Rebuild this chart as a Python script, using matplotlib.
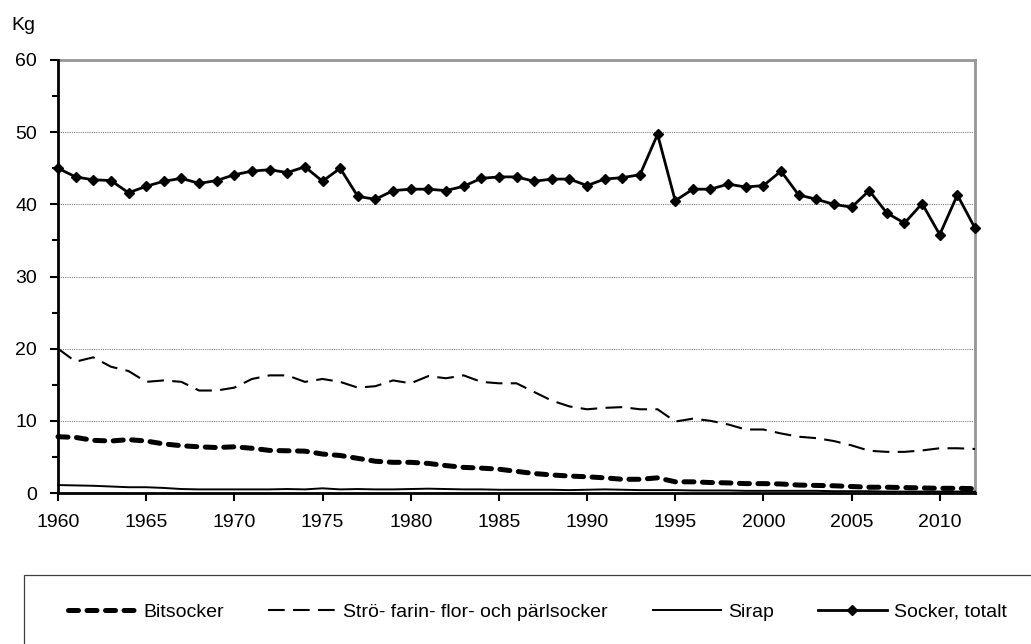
import matplotlib
matplotlib.use("Agg")
import matplotlib.pyplot as plt
from matplotlib.patches import Rectangle
from matplotlib.ticker import MultipleLocator

plt.rcParams['font.family'] = ['Liberation Sans', 'DejaVu Sans']
FS = 14

years = list(range(1960, 2013))
bitsocker = [7.8, 7.7, 7.3, 7.2, 7.4, 7.2, 6.8, 6.55, 6.4, 6.3,
             6.4, 6.2, 5.9, 5.85, 5.8, 5.4, 5.2, 4.8, 4.4, 4.25,
             4.25, 4.1, 3.8, 3.55, 3.45, 3.3, 3.0, 2.7, 2.5, 2.35,
             2.25, 2.1, 1.9, 1.9, 2.1, 1.55, 1.55, 1.45, 1.4, 1.3,
             1.3, 1.25, 1.1, 1.05, 1.0, 0.9, 0.8, 0.8, 0.75, 0.7,
             0.65, 0.65, 0.6]
stro = [20.0, 18.2, 18.8, 17.5, 16.9, 15.4, 15.6, 15.4, 14.2, 14.2,
        14.6, 15.8, 16.3, 16.3, 15.4, 15.8, 15.4, 14.6, 14.8, 15.6,
        15.2, 16.2, 15.9, 16.3, 15.4, 15.2, 15.2, 14.0, 12.8, 12.0,
        11.6, 11.8, 11.9, 11.6, 11.6, 9.9, 10.3, 10.0, 9.5, 8.8,
        8.8, 8.25, 7.8, 7.6, 7.2, 6.6, 5.85, 5.7, 5.7, 5.9,
        6.2, 6.2, 6.1]
sirap = [1.1, 1.05, 1.0, 0.9, 0.8, 0.8, 0.7, 0.55, 0.5, 0.5,
         0.5, 0.5, 0.5, 0.55, 0.5, 0.65, 0.5, 0.55, 0.5, 0.5,
         0.55, 0.6, 0.55, 0.5, 0.5, 0.45, 0.45, 0.45, 0.45, 0.4,
         0.45, 0.5, 0.45, 0.4, 0.4, 0.4, 0.35, 0.35, 0.35, 0.3,
         0.3, 0.3, 0.3, 0.3, 0.25, 0.25, 0.25, 0.2, 0.2, 0.2,
         0.2, 0.2, 0.2]
totalt = [45.0, 43.8, 43.4, 43.3, 41.6, 42.5, 43.2, 43.6, 42.9, 43.3,
          44.1, 44.6, 44.8, 44.4, 45.2, 43.2, 45.0, 41.1, 40.7, 41.9,
          42.1, 42.1, 41.9, 42.5, 43.6, 43.8, 43.8, 43.2, 43.5, 43.5,
          42.6, 43.5, 43.7, 44.1, 49.7, 40.5, 42.1, 42.1, 42.8, 42.4,
          42.6, 44.6, 41.3, 40.7, 40.0, 39.6, 41.9, 38.8, 37.4, 40.1,
          35.8, 41.3, 36.7]
labels = ["Bitsocker", "Strö- farin- flor- och pärlsocker", "Sirap", "Socker, totalt"]
xticks = list(range(1960, 2011, 5))
yticks = list(range(0, 61, 10))

W, H = 1031, 644
fig = plt.figure(figsize=(W / 100, H / 100), dpi=100)
ax = fig.add_axes([58 / W, (H - 493) / H, (975 - 58) / W, (493 - 60) / H])

styles = [
    dict(color='black', lw=3.6, dashes=(2.0, 1.7), dash_capstyle='round'),
    dict(color='black', lw=1.5, dashes=(8, 4)),
    dict(color='black', lw=1.4),
    dict(color='black', lw=2.0, marker='D', markersize=4.8,
         markerfacecolor='black', markeredgecolor='black'),
]
series = [bitsocker, stro, sirap, totalt]
handles = []
for data, st, lab in zip(series, styles, labels):
    ln, = ax.plot(years, data, label=lab, clip_on=False, zorder=3, **st)
    handles.append(ln)

ax.set_xlim(1960, 2012)
ax.set_ylim(0, 60)
ax.set_xticks(xticks)
ax.set_yticks(yticks)
ax.yaxis.set_minor_locator(MultipleLocator(5))
ax.tick_params(axis='both', which='major', direction='out', length=6, width=1.5,
               labelsize=FS, colors='black')
ax.tick_params(axis='y', which='minor', direction='out', length=4, width=1.5)
ax.tick_params(axis='x', which='major', pad=9)
ax.tick_params(axis='y', which='major', pad=9)

ax.grid(axis='y', which='major', color='#808080', linewidth=0.8,
        linestyle=(0, (1, 1)), zorder=1)
ax.set_axisbelow(True)

for s in ['left', 'bottom']:
    ax.spines[s].set_color('black')
    ax.spines[s].set_linewidth(2.0)
    ax.spines[s].set_zorder(4)
for s in ['top', 'right']:
    ax.spines[s].set_color('#969696')
    ax.spines[s].set_linewidth(2.0)

fig.text(11 / W, (H - 30) / H, 'Kg', fontsize=FS, ha='left', va='baseline')

# legend frame
fig.patches.append(Rectangle((24 / W, -0.1), 1.2, (H - 575) / H + 0.1,
                             transform=fig.transFigure, fill=False,
                             edgecolor='#404040', linewidth=0.9))

fig.legend(handles=handles, labels=labels, ncol=4, loc='center left',
           bbox_to_anchor=(68 / W, (H - 612) / H), frameon=False,
           fontsize=FS, handlelength=3.5, handletextpad=0.36,
           columnspacing=2.3, borderpad=0, borderaxespad=0)

fig.savefig('out.png', dpi=100)
